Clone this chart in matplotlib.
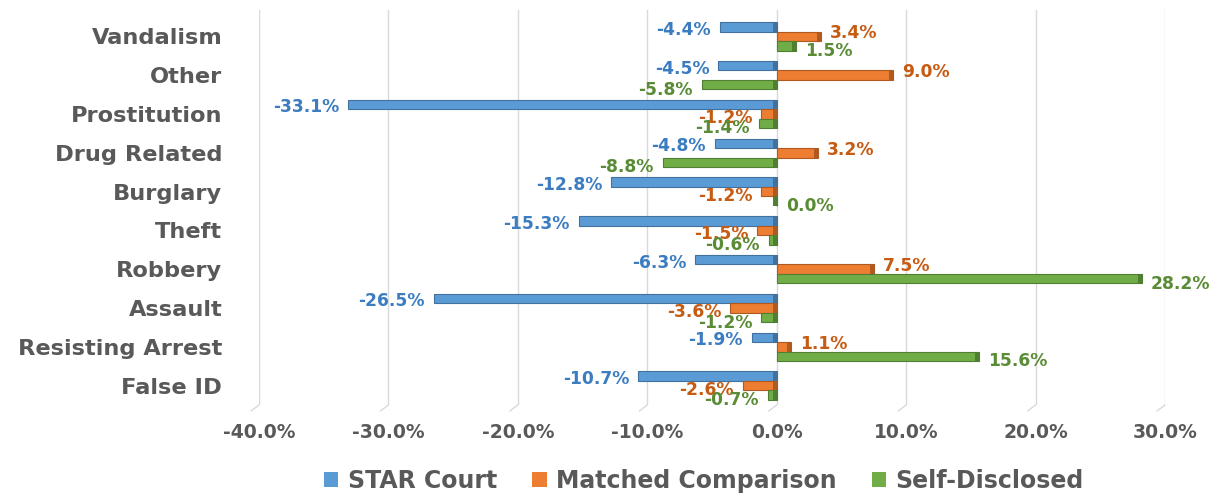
import matplotlib.pyplot as plt
from matplotlib.patches import Patch
import matplotlib.transforms as mtransforms

categories = ['False ID', 'Resisting Arrest', 'Assault', 'Robbery', 'Theft',
              'Burglary', 'Drug Related', 'Prostitution', 'Other', 'Vandalism']
star = [-10.7, -1.9, -26.5, -6.3, -15.3, -12.8, -4.8, -33.1, -4.5, -4.4]
matched = [-2.6, 1.1, -3.6, 7.5, -1.5, -1.2, 3.2, -1.2, 9.0, 3.4]
selfdisc = [-0.7, 15.6, -1.2, 28.2, -0.6, 0.0, -8.8, -1.4, -5.8, 1.5]
series_names = ['STAR Court', 'Matched Comparison', 'Self-Disclosed']
xticks = [-40, -30, -20, -10, 0, 10, 20, 30]

fills = ['#5B9BD5', '#ED7D31', '#70AD47']
sides = ['#41719C', '#AE5A21', '#507E32']
label_cols = ['#3B7DC0', '#C65B12', '#5A8C35']
gray = '#595959'
font = 'DejaVu Sans'

fig = plt.figure(figsize=(12.17, 4.93), dpi=100)
ax = fig.add_axes([259 / 1217, 1 - 405 / 493, (1165 - 259) / 1217, 395 / 493])

h = 0.245
offsets = [h, 0, -h]
dys = [-3, 3, -5]
data = [star, matched, selfdisc]
for s, vals in enumerate(data):
    ys = [i + offsets[s] for i in range(len(categories))]
    ax.barh(ys, vals, height=h, color=fills[s], edgecolor=sides[s], linewidth=0.8, zorder=3)
    # darker end face to mimic the 3D look
    ends = [max(v, 0) for v in vals]
    ax.barh(ys, [-0.3] * len(vals), left=ends, height=h, color=sides[s], linewidth=0, zorder=4)
    for y, v in zip(ys, vals):
        neg = v < 0
        dy = dys[s]
        if s == 1 and neg:
            dy = -4
        ax.annotate(f'{v:.1f}%', (v, y), xytext=(-6.5 if neg else 6.5, dy * 0.72),
                    textcoords='offset points', ha='right' if neg else 'left', va='center',
                    fontsize=12.3, fontweight='bold', color=label_cols[s], family=font, zorder=5)

ax.set_xlim(-40, 30)
ax.set_ylim(-0.5, 9.68)
ax.set_xticks(xticks)
ax.set_xticklabels([f'{t:.1f}%' for t in xticks], fontsize=13.5, fontweight='bold', color=gray, family=font)
ax.set_yticks(range(len(categories)))
ax.set_yticklabels(categories, fontsize=16.2, fontweight='bold', color=gray, family=font)
ax.tick_params(axis='both', length=0)
ax.tick_params(axis='y', pad=26.5)
ax.tick_params(axis='x', pad=13)
ax.grid(axis='x', color='#D9D9D9', linewidth=1, zorder=0)
for sp in ax.spines.values():
    sp.set_visible(False)

# small skewed floor lines under each gridline
trans = mtransforms.blended_transform_factory(ax.transData, ax.transAxes)
for t in xticks:
    ax.annotate('', xy=(t, 0), xycoords=trans, xytext=(-8, -6), textcoords='offset pixels',
                arrowprops=dict(arrowstyle='-', color='#D9D9D9', lw=1, shrinkA=0, shrinkB=0))

handles = [Patch(facecolor=c) for c in fills]
leg = fig.legend(handles, series_names, loc='center', bbox_to_anchor=(704 / 1217, 1 - 481 / 493), ncol=3,
                 frameon=False, handlelength=0.6, handleheight=0.6, handletextpad=0.4,
                 columnspacing=1.5, borderaxespad=0, prop={'family': font, 'weight': 'bold', 'size': 17})
for txt in leg.get_texts():
    txt.set_color(gray)

fig.savefig('out.png', dpi=100)
